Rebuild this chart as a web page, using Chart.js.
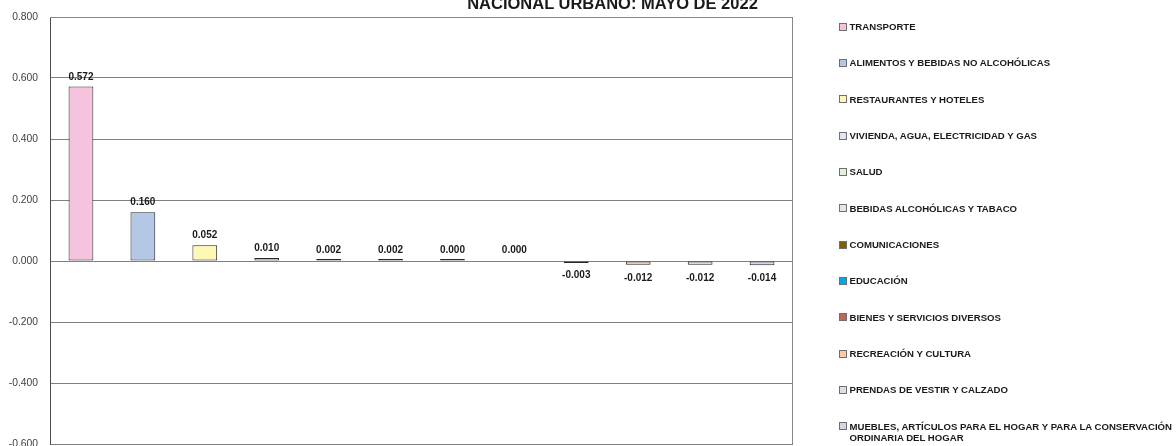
<!DOCTYPE html>
<html>
<head>
<meta charset="utf-8">
<script src="https://cdn.jsdelivr.net/npm/chart.js@4.4.1/dist/chart.umd.min.js"></script>
<style>
  html, body { margin: 0; padding: 0; background: #ffffff; overflow: hidden; }
  #wrap { position: relative; width: 1176px; height: 446px; overflow: hidden; }
  #c { position: absolute; left: 0; top: 0; }
  #title {
    position: absolute; left: 612.5px; top: -4.6px; transform: translateX(-50%);
    font-family: "Liberation Sans", Arial, sans-serif; font-weight: bold;
    font-size: 16.5px; line-height: 16.5px; color: #1a1a1a; white-space: nowrap;
  }
  .lg-box { position: absolute; width: 8px; height: 8px; box-sizing: border-box; border: 1px solid #6f6f6f; }
  .lg-text {
    position: absolute; font-family: "Liberation Sans", Arial, sans-serif; font-weight: bold;
    font-size: 9.6px; line-height: 11.7px; color: #1a1a1a; white-space: nowrap;
  }
</style>
</head>
<body>
<div id="wrap">
  <canvas id="c" width="1176" height="446"></canvas>
  <div id="title">NACIONAL URBANO: MAYO DE 2022</div>
  <div id="legend"></div>
</div>
<script>
// ---- data ----
const categories = [
  "TRANSPORTE",
  "ALIMENTOS Y BEBIDAS NO ALCOHÓLICAS",
  "RESTAURANTES Y HOTELES",
  "VIVIENDA, AGUA, ELECTRICIDAD Y GAS",
  "SALUD",
  "BEBIDAS ALCOHÓLICAS Y TABACO",
  "COMUNICACIONES",
  "EDUCACIÓN",
  "BIENES Y SERVICIOS DIVERSOS",
  "RECREACIÓN Y CULTURA",
  "PRENDAS DE VESTIR Y CALZADO",
  ["MUEBLES, ARTÍCULOS PARA EL HOGAR Y PARA LA CONSERVACIÓN", "ORDINARIA DEL HOGAR"]
];
const incidence = [0.572, 0.160, 0.052, 0.010, 0.002, 0.002, 0.0004, 0.000, -0.003, -0.012, -0.012, -0.014];
const barColors = [
  "#f5c3de", "#b4c7e7", "#fff7b5", "#dce6f2", "#e2efda", "#e6e6e6",
  "#7f6000", "#00a8ea", "#c0675c", "#f8cbad", "#dde0ea", "#d9d2e9"
];
const yMin = -0.6, yMax = 0.8, yStep = 0.2;

// ---- legend (HTML, built from the arrays) ----
const legendEl = document.getElementById("legend");
categories.forEach((cat, i) => {
  const cy = 26.5 + 36.35 * i;
  const box = document.createElement("div");
  box.className = "lg-box";
  box.style.left = "839px";
  box.style.top = (cy - 4) + "px";
  box.style.background = barColors[i];
  legendEl.appendChild(box);
  const t = document.createElement("div");
  t.className = "lg-text";
  t.style.left = "849.5px";
  t.style.top = (cy - 5.7) + "px";
  const lines = Array.isArray(cat) ? cat : [cat];
  lines.forEach((ln, k) => {
    if (k) t.appendChild(document.createElement("br"));
    t.appendChild(document.createTextNode(ln));
  });
  legendEl.appendChild(t);
});

// ---- plugins ----
const plotFrame = {
  id: "plotFrame",
  beforeDatasetsDraw(chart) {
    const { ctx, chartArea: a } = chart;
    ctx.save();
    ctx.strokeStyle = "#868686";
    ctx.lineWidth = 1;
    ctx.beginPath();
    ctx.moveTo(a.left, Math.round(a.top) + 0.5);
    ctx.lineTo(Math.round(a.right) - 0.5, Math.round(a.top) + 0.5);
    ctx.lineTo(Math.round(a.right) - 0.5, a.bottom);
    ctx.stroke();
    ctx.restore();
  }
};

const valueLabels = {
  id: "valueLabels",
  afterDatasetsDraw(chart) {
    const { ctx } = chart;
    const meta = chart.getDatasetMeta(0);
    const data = chart.data.datasets[0].data;
    const zeroY = chart.scales.y.getPixelForValue(0);
    ctx.save();
    ctx.font = "bold 10px 'Liberation Sans', Arial, sans-serif";
    ctx.fillStyle = "#1a1a1a";
    ctx.textAlign = "center";
    ctx.textBaseline = "alphabetic";
    meta.data.forEach((bar, i) => {
      const v = data[i];
      const txt = v.toFixed(3);
      const end = chart.scales.y.getPixelForValue(v);
      if (v >= 0) {
        ctx.fillText(txt, bar.x, Math.min(end, zeroY - 1) - 7);
      } else {
        ctx.fillText(txt, bar.x, Math.max(end, zeroY + 1) + 16);
      }
    });
    ctx.restore();
  }
};

// ---- chart ----
new Chart(document.getElementById("c"), {
  type: "bar",
  data: {
    labels: categories,
    datasets: [{
      data: incidence,
      backgroundColor: (c) => (c.raw === 0 ? "rgba(0,0,0,0)" : barColors[c.dataIndex]),
      borderColor: (c) => (c.raw === 0 ? "rgba(0,0,0,0)" : "#262626"),
      borderWidth: 1,
      borderSkipped: false,
      minBarLength: 2,
      barPercentage: 0.4,
      categoryPercentage: 1.0
    }]
  },
  options: {
    responsive: false,
    animation: false,
    devicePixelRatio: 1,
    layout: { padding: { left: 0, top: 17, right: 383, bottom: 2 } },
    plugins: { legend: { display: false }, tooltip: { enabled: false }, title: { display: false } },
    scales: {
      x: { display: false, offset: true },
      y: {
        min: yMin, max: yMax,
        ticks: {
          stepSize: yStep,
          padding: 12,
          color: "#404040",
          font: { family: "'Liberation Sans', Arial, sans-serif", size: 10.3 },
          callback: (v) => (Math.abs(v) < 1e-9 ? 0 : v).toFixed(3)
        },
        grid: { color: "#808080", lineWidth: 1, drawTicks: false },
        border: { color: "#4d4d4d", width: 1 },
        afterFit(s) { s.width = 50; s.paddingTop = 0; s.paddingBottom = 0; }
      }
    }
  },
  plugins: [plotFrame, valueLabels]
});
</script>
</body>
</html>
